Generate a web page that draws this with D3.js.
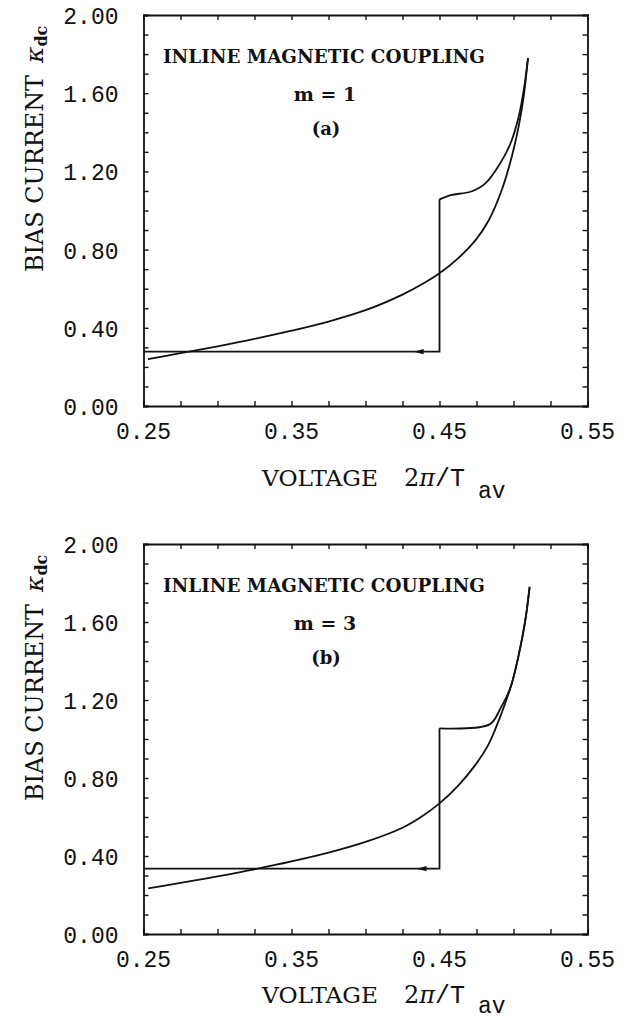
<!DOCTYPE html>
<html><head><meta charset="utf-8">
<script src="https://cdn.jsdelivr.net/npm/d3@7"></script>
<style>
html,body{margin:0;padding:0;background:#fff;}
svg{display:block;}
.tick-label{font-family:"Liberation Mono",monospace;font-size:23px;fill:#111;}
.serif{font-family:"DejaVu Serif",serif;fill:#111;}
</style></head>
<body>
<svg id="chart" width="628" height="1019"></svg>
<script>
// ---------- data ----------
const xTickValues = [0.25, 0.35, 0.45, 0.55];
const yTickValues = [0.00, 0.40, 0.80, 1.20, 1.60, 2.00];
const panelLabels = ["(a)", "(b)"];
const mLabels = ["m = 1", "m = 3"];
const annotation = "INLINE MAGNETIC COUPLING";

// panel (a): smooth branch (x, kappa)
const aSmoothX = [0.253,0.275,0.30,0.325,0.35,0.375,0.40,0.425,0.4375,0.45,0.4625,0.4745,0.4833,0.4923,0.499,0.5035,0.507,0.5098];
const aSmoothY = [0.240,0.270,0.305,0.343,0.385,0.432,0.490,0.570,0.620,0.679,0.755,0.850,0.950,1.110,1.280,1.430,1.590,1.780];
// panel (a): hysteresis branch from top, down the step, then left
const aHystX = [0.5098,0.507,0.5035,0.498,0.491,0.481,0.471,0.4575,0.4500,0.4500,0.2500];
const aHystY = [1.780,1.620,1.480,1.344,1.241,1.139,1.096,1.079,1.057,0.278,0.278];
const aArrowX = 0.4325;

// panel (b)
const bSmoothX = [0.2532,0.275,0.30,0.325,0.35,0.375,0.40,0.425,0.4375,0.45,0.4625,0.4745,0.4833,0.4923,0.499,0.5035,0.508,0.5109];
const bSmoothY = [0.234,0.262,0.296,0.332,0.372,0.417,0.472,0.545,0.600,0.670,0.760,0.870,0.975,1.140,1.290,1.430,1.610,1.780];
const bHystX = [0.5109,0.508,0.5035,0.498,0.4912,0.4838,0.4500,0.4500,0.2500];
const bHystY = [1.780,1.610,1.430,1.265,1.157,1.075,1.055,0.335,0.335];
const bArrowX = 0.4345;

// ---------- drawing ----------
const svg = d3.select("#chart");
const xDomain = [0.25, 0.55], yDomain = [0, 2];

const panels = [
  {top:15,  bottom:406, titleY:486, subY:498, smX:aSmoothX, smY:aSmoothY, hX:aHystX, hY:aHystY, arrow:aArrowX, lab:panelLabels[0], m:mLabels[0]},
  {top:544, bottom:934, titleY:1003, subY:1013, smX:bSmoothX, smY:bSmoothY, hX:bHystX, hY:bHystY, arrow:bArrowX, lab:panelLabels[1], m:mLabels[1]}
];
const left = 143.5, right = 587.5;

panels.forEach((p) => {
  const g = svg.append("g");
  const x = d3.scaleLinear().domain(xDomain).range([left, right]);
  const y = d3.scaleLinear().domain(yDomain).range([p.bottom, p.top]);
  const minorX = d3.range(0, 13).map(i => 0.25 + i * 0.025);
  const minorY = d3.range(0, 21).map(i => i * 0.1);
  const tl = 5;

  const axB = d3.axisTop(x).tickValues(minorX).tickSize(tl).tickFormat("");
  const axT = d3.axisBottom(x).tickValues(minorX).tickSize(tl).tickFormat("");
  const axL = d3.axisRight(y).tickValues(minorY).tickSize(tl).tickFormat("");
  const axR = d3.axisLeft(y).tickValues(minorY).tickSize(tl).tickFormat("");
  [[axB,`translate(0,${p.bottom})`],[axT,`translate(0,${p.top})`],[axL,`translate(${left},0)`],[axR,`translate(${right},0)`]].forEach(([ax,tr])=>{
    const a = g.append("g").attr("transform", tr).call(ax);
    a.select(".domain").attr("stroke","#111").attr("stroke-width",1.8);
    a.selectAll(".tick line").attr("stroke","#111").attr("stroke-width",1.4);
  });

  // tick labels
  g.selectAll(".xl").data(xTickValues).enter().append("text")
    .attr("class","tick-label").attr("x", d => x(d)).attr("y", p.bottom + 33)
    .attr("text-anchor","middle").text(d => d.toFixed(2));
  g.selectAll(".yl").data(yTickValues).enter().append("text")
    .attr("class","tick-label").attr("x", left - 25).attr("y", d => y(d) + 9)
    .attr("text-anchor","end").text(d => d.toFixed(2));

  // curves
  const smooth = d3.line().x(d => x(d[0])).y(d => y(d[1])).curve(d3.curveCatmullRom);
  const straight = d3.line().x(d => x(d[0])).y(d => y(d[1])).curve(d3.curveLinear);
  const sm = p.smX.map((v,i)=>[v,p.smY[i]]);
  g.append("path").attr("d", smooth(sm)).attr("fill","none").attr("stroke","#111").attr("stroke-width",1.8);
  const hy = p.hX.map((v,i)=>[v,p.hY[i]]);
  const nCurve = hy.length - 2;
  g.append("path").attr("d", smooth(hy.slice(0, nCurve)))
    .attr("fill","none").attr("stroke","#111").attr("stroke-width",1.8);
  g.append("path").attr("d", straight(hy.slice(nCurve-1)))
    .attr("fill","none").attr("stroke","#111").attr("stroke-width",1.8);

  // arrow (pointing left)
  const ay = y(p.hY[p.hY.length-1]), ax = x(p.arrow);
  g.append("path").attr("d", `M${ax},${ay} L${ax+10},${ay-2.6} L${ax+10},${ay+2.6} Z`).attr("fill","#111");

  // annotations
  g.append("text").attr("class","serif").attr("x",163).attr("y",p.top+48)
    .attr("font-size",19).attr("font-weight","bold").attr("textLength",322).attr("lengthAdjust","spacingAndGlyphs")
    .text(annotation);
  g.append("text").attr("class","serif").attr("x",325).attr("y",p.top+86)
    .attr("font-size",19).attr("font-weight","bold").attr("text-anchor","middle").text(p.m);
  g.append("text").attr("class","serif").attr("x",326).attr("y",p.top+120)
    .attr("font-size",18).attr("font-weight","bold").attr("text-anchor","middle").text(p.lab);

  // y axis title (rotated)
  const yt = g.append("text").attr("class","serif")
    .attr("transform",`translate(43,${p.top+257}) rotate(-90)`).attr("font-size",24);
  yt.append("tspan").attr("textLength",197).attr("lengthAdjust","spacingAndGlyphs").text("BIAS CURRENT");
  yt.append("tspan").attr("dx",12).attr("font-style","italic").attr("font-size",25).text("κ");
  yt.append("tspan").attr("dy",4).attr("font-size",16).attr("font-weight","bold").text("dc");

  // x axis title
  g.append("text").attr("class","serif").attr("x",262).attr("y",p.titleY).attr("font-size",22)
    .attr("textLength",116).attr("lengthAdjust","spacingAndGlyphs").text("VOLTAGE");
  const t2 = g.append("text").attr("class","serif").attr("x",404).attr("y",p.titleY).attr("font-size",24);
  t2.append("tspan").text("2");
  t2.append("tspan").attr("font-style","italic").text("π");
  t2.append("tspan").attr("font-family","Liberation Mono, monospace").attr("font-size",25).text("/T");
  g.append("text").attr("font-family","Liberation Mono, monospace").attr("fill","#111").attr("font-size",23)
    .attr("x",478).attr("y",p.subY).text("av");
});
</script>
</body></html>
